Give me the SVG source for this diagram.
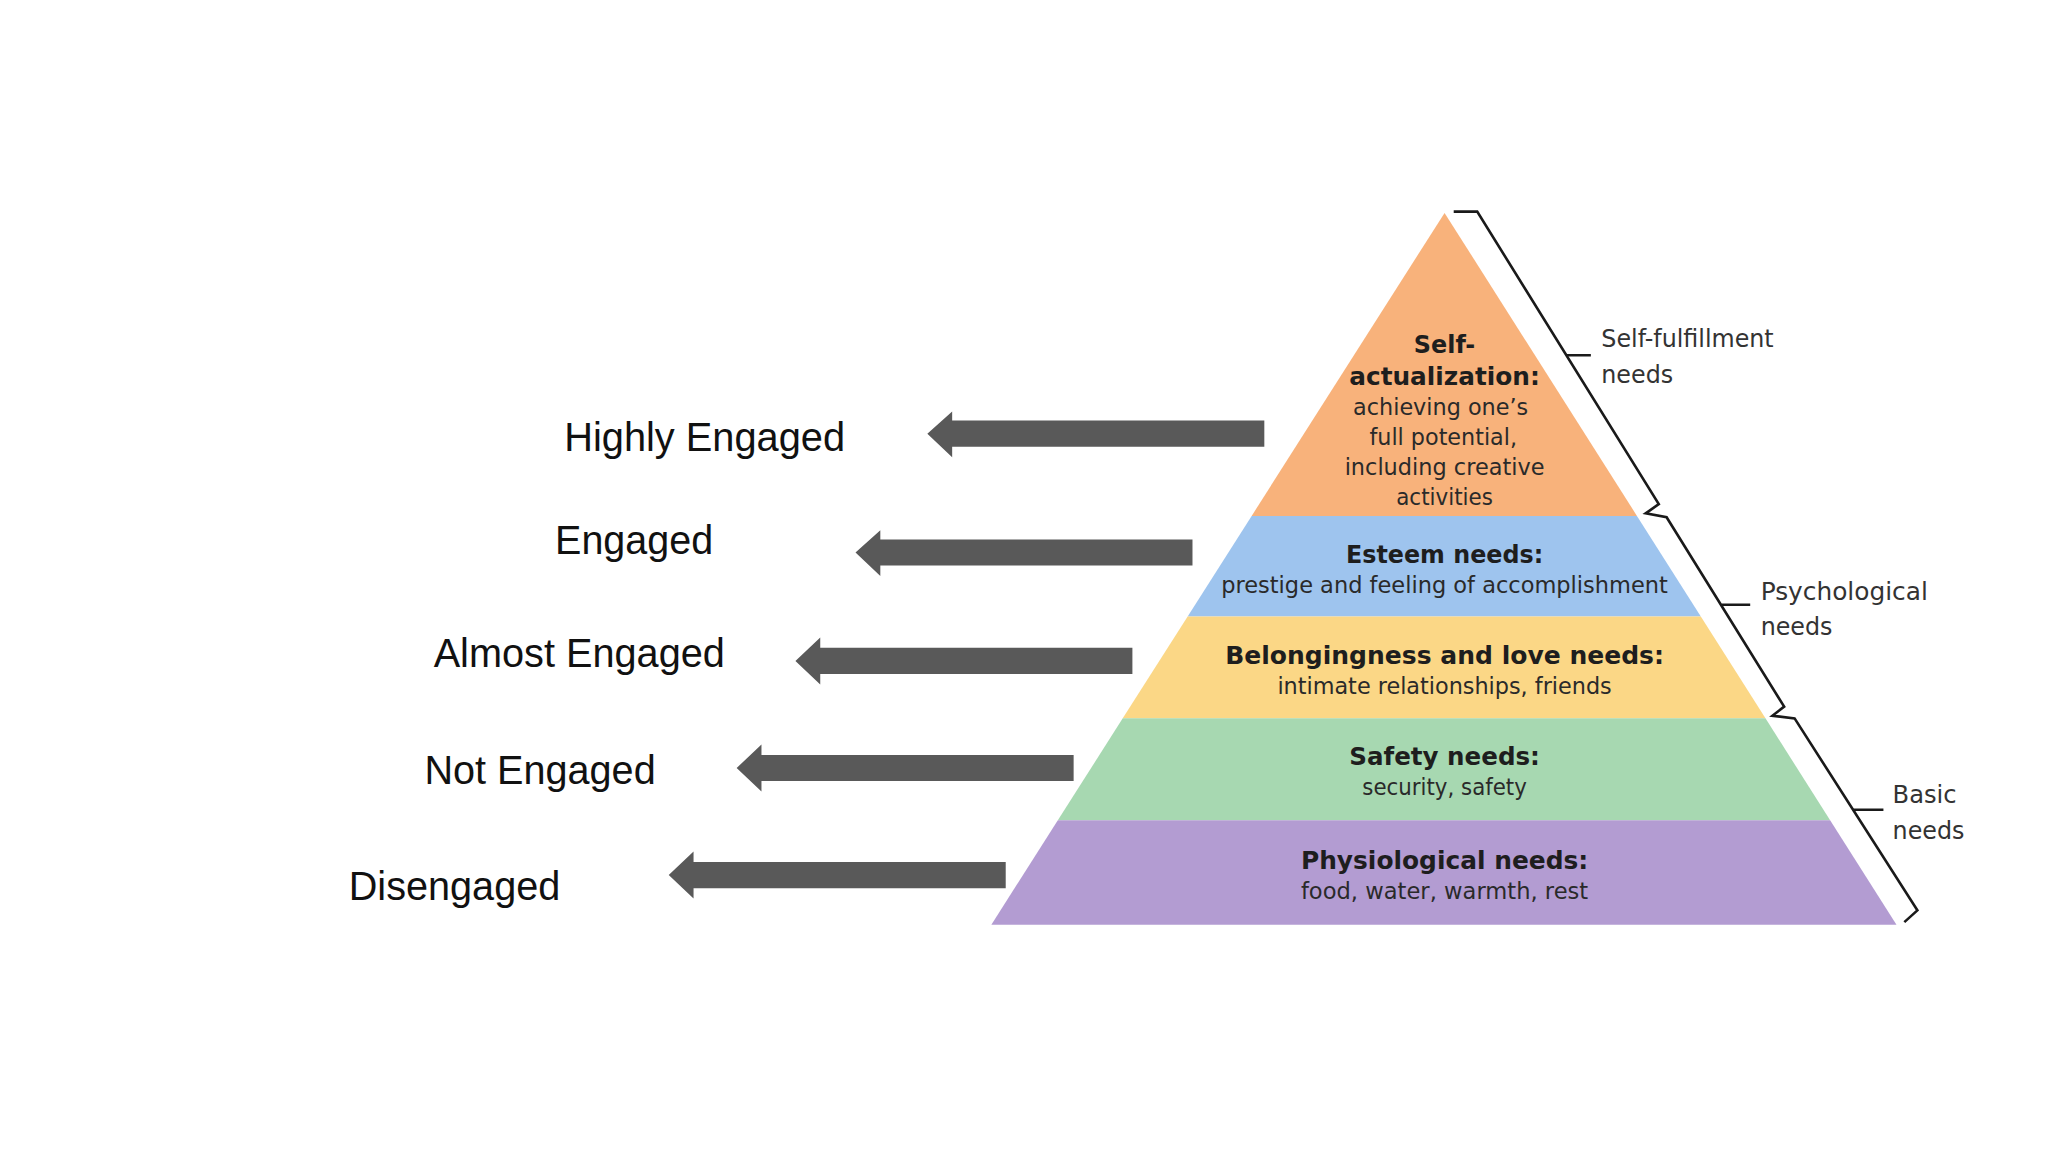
<svg xmlns="http://www.w3.org/2000/svg" width="2048" height="1152" viewBox="0 0 2048 1152">
<defs>
<style>
.lbl{font-family:"Liberation Sans",Arial,sans-serif;font-size:30.5px;fill:#111;}
.hd{font-family:"DejaVu Sans","Liberation Sans",sans-serif;font-weight:bold;font-size:19px;fill:#1e1e1e;text-anchor:middle;}
.sb{font-family:"DejaVu Sans","Liberation Sans",sans-serif;font-size:17px;fill:#2a2a2a;text-anchor:middle;}
.side{font-family:"DejaVu Sans","Liberation Sans",sans-serif;font-size:19px;fill:#333;}
.arr{fill:#595959;}
.brk{fill:none;stroke:#1a1a1a;stroke-width:2;stroke-linejoin:miter;}
</style>
</defs>
<rect width="2048" height="1152" fill="#ffffff"/>
<g transform="scale(1.30612)">
<g id="level-self-actualization">
<polygon points="1106,163 1253.3,395 958.3,395" fill="#F8B27B"/>
<text class="hd" x="1106" y="270" textLength="47" lengthAdjust="spacingAndGlyphs">Self-</text>
<text class="hd" x="1106" y="295" textLength="146" lengthAdjust="spacingAndGlyphs">actualization:</text>
<text class="sb" x="1103" y="318" textLength="134" lengthAdjust="spacingAndGlyphs">achieving one’s</text>
<text class="sb" x="1105" y="341" textLength="113" lengthAdjust="spacingAndGlyphs">full potential,</text>
<text class="sb" x="1106" y="364" textLength="153" lengthAdjust="spacingAndGlyphs">including creative</text>
<text class="sb" x="1106" y="387" textLength="74" lengthAdjust="spacingAndGlyphs">activities</text>
</g>
<g id="level-esteem">
<polygon points="958.3,395 1253.3,395 1302.2,472 909.3,472" fill="#9EC4EE"/>
<text class="hd" x="1106" y="431" textLength="151" lengthAdjust="spacingAndGlyphs">Esteem needs:</text>
<text class="sb" x="1106" y="454" textLength="342" lengthAdjust="spacingAndGlyphs">prestige and feeling of accomplishment</text>
</g>
<g id="level-belonging">
<polygon points="909.3,472 1302.2,472 1351.7,550 859.6,550" fill="#FBD786"/>
<text class="hd" x="1106" y="508" textLength="336" lengthAdjust="spacingAndGlyphs">Belongingness and love needs:</text>
<text class="sb" x="1106" y="531" textLength="256" lengthAdjust="spacingAndGlyphs">intimate relationships, friends</text>
</g>
<g id="level-safety">
<polygon points="859.6,550 1351.7,550 1401.2,628 809.9,628" fill="#A7D8B1"/>
<text class="hd" x="1106" y="586" textLength="146" lengthAdjust="spacingAndGlyphs">Safety needs:</text>
<text class="sb" x="1106" y="609" textLength="126" lengthAdjust="spacingAndGlyphs">security, safety</text>
</g>
<g id="level-physiological">
<polygon points="809.9,628 1401.2,628 1452,708 759,708" fill="#B39CD2"/>
<text class="hd" x="1106" y="665" textLength="220" lengthAdjust="spacingAndGlyphs">Physiological needs:</text>
<text class="sb" x="1106" y="688" textLength="220" lengthAdjust="spacingAndGlyphs">food, water, warmth, rest</text>
</g>
<g id="brackets">
<path class="brk" d="M1113,162 L1131,162 L1270,386 L1260,393 L1276,396 L1366,541 L1357,548 L1374,550 L1468,697 L1458,706"/>
<path class="brk" d="M1199,272 H1218 M1318,463 H1340 M1419,620 H1442"/>
</g>
<g id="side-self-fulfillment">
<text class="side" x="1226" y="266" textLength="132" lengthAdjust="spacingAndGlyphs">Self-fulfillment</text>
<text class="side" x="1226" y="293" textLength="55" lengthAdjust="spacingAndGlyphs">needs</text>
</g>
<g id="side-psychological">
<text class="side" x="1348" y="459" textLength="128" lengthAdjust="spacingAndGlyphs">Psychological</text>
<text class="side" x="1348" y="486" textLength="55" lengthAdjust="spacingAndGlyphs">needs</text>
</g>
<g id="side-basic">
<text class="side" x="1449" y="615" textLength="49" lengthAdjust="spacingAndGlyphs">Basic</text>
<text class="side" x="1449" y="642" textLength="55" lengthAdjust="spacingAndGlyphs">needs</text>
</g>
<g id="label-highly-engaged"><text class="lbl" x="432" y="345" textLength="215" lengthAdjust="spacingAndGlyphs">Highly Engaged</text></g>
<g id="label-engaged"><text class="lbl" x="425" y="424" textLength="121" lengthAdjust="spacingAndGlyphs">Engaged</text></g>
<g id="label-almost-engaged"><text class="lbl" x="332" y="511" textLength="223" lengthAdjust="spacingAndGlyphs">Almost Engaged</text></g>
<g id="label-not-engaged"><text class="lbl" x="325" y="600" textLength="177" lengthAdjust="spacingAndGlyphs">Not Engaged</text></g>
<g id="label-disengaged"><text class="lbl" x="267" y="689" textLength="162" lengthAdjust="spacingAndGlyphs">Disengaged</text></g>
<g id="connectors">
<path class="arr" d="M710,332 L729,315 L729,322 L968,322 L968,342 L729,342 L729,350 Z"/>
<path class="arr" d="M655,423 L674,406 L674,413 L913,413 L913,433 L674,433 L674,441 Z"/>
<path class="arr" d="M609,506 L628,488 L628,496 L867,496 L867,516 L628,516 L628,524 Z"/>
<path class="arr" d="M564,588 L583,570 L583,578 L822,578 L822,598 L583,598 L583,606 Z"/>
<path class="arr" d="M512,670 L531,652 L531,660 L770,660 L770,680 L531,680 L531,688 Z"/>
</g>
</g>
</svg>
